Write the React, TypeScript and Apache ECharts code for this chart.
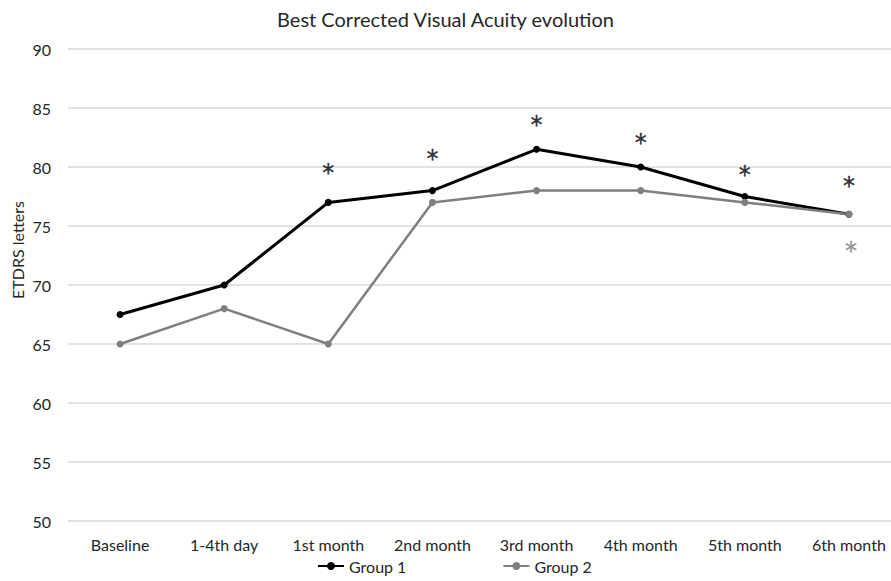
import React, { useEffect, useRef } from "react";
import * as echarts from "echarts";

const categories = ["Baseline", "1-4th day", "1st month", "2nd month", "3rd month", "4th month", "5th month", "6th month"];
const group1 = [67.5, 70, 77, 78, 81.5, 80, 77.5, 76];
const group2 = [65, 68, 65, 77, 78, 78, 77, 76];
const yTicks = { min: 50, max: 90, interval: 5 };
// significance marks: [category index, value]
const starsGroup1: [number, number][] = [[2, 79.9], [3, 81.1], [4, 84.0], [5, 82.5], [6, 79.75], [7, 78.8]];
const starsGroup2: [number, number][] = [[7, 73.3]];

const FONT = "Lato";

export default function App() {
  const ref = useRef<HTMLDivElement>(null);
  useEffect(() => {
    if (!ref.current) return;
    const chart = echarts.init(ref.current, null, { renderer: "svg" });
    const starLabel = (color: string) => ({
      show: true,
      formatter: "*",
      position: "inside" as const,
      color,
      fontSize: 24,
      fontFamily: "DejaVu Sans",
      textBorderColor: color,
      textBorderWidth: 0.4,
      offset: [0, 5],
    });
    chart.setOption({
      animation: false,
      title: {
        text: "Best Corrected Visual Acuity evolution",
        left: "center",
        top: 4,
        textStyle: { fontFamily: FONT, fontSize: 20, fontWeight: "normal", color: "#262626" },
      },
      legend: {
        data: ["Group 1", "Group 2"],
        bottom: 2,
        left: 312,
        itemWidth: 26,
        itemHeight: 10,
        itemGap: 96,
        textStyle: { fontFamily: FONT, fontSize: 16, color: "#262626" },
      },
      grid: { left: 68, width: 833, top: 49, bottom: 60, outerBoundsMode: "none", containLabel: false },
      graphic: [
        {
          type: "text",
          x: 17,
          y: 250,
          rotation: Math.PI / 2,
          style: {
            text: "ETDRS letters",
            fontFamily: FONT,
            fontSize: 16,
            fill: "#262626",
            align: "center",
            verticalAlign: "middle",
          },
        },
      ],
      xAxis: {
        type: "category",
        data: categories,
        boundaryGap: true,
        axisLine: { show: false },
        axisTick: { show: false },
        axisLabel: { fontFamily: FONT, fontSize: 16, color: "#262626", margin: 15, hideOverlap: false },
      },
      yAxis: {
        type: "value",
        min: yTicks.min,
        max: yTicks.max,
        interval: yTicks.interval,
        axisLine: { show: false },
        axisTick: { show: false },
        axisLabel: { fontFamily: FONT, fontSize: 16, color: "#262626", margin: 17 },
        splitLine: { lineStyle: { color: "#d9d9d9", width: 1.5 } },
      },
      series: [
        {
          name: "Group 1",
          type: "line",
          data: group1,
          symbol: "circle",
          symbolSize: 7,
          lineStyle: { color: "#000000", width: 3 },
          itemStyle: { color: "#000000" },
        },
        {
          name: "Group 2",
          type: "line",
          data: group2,
          symbol: "circle",
          symbolSize: 7,
          lineStyle: { color: "#7f7f7f", width: 2.5 },
          itemStyle: { color: "#7f7f7f" },
        },
        {
          name: "sig1",
          type: "scatter",
          data: starsGroup1,
          symbolSize: 0,
          label: starLabel("#000000"),
          silent: true,
        },
        {
          name: "sig2",
          type: "scatter",
          data: starsGroup2,
          symbolSize: 0,
          label: { ...starLabel("#7f7f7f"), offset: [2, 5] },
          silent: true,
        },
      ],
    });
    return () => chart.dispose();
  }, []);
  return (
    <div
      ref={ref}
      style={{ position: "fixed", left: 0, top: 0, width: 891, height: 581, background: "#fff" }}
    />
  );
}
